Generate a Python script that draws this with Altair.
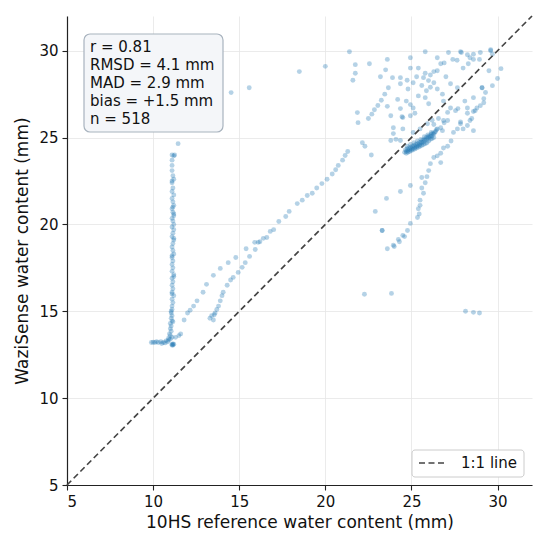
import altair as alt
import pandas as pd

# ---- data ----
column_x = [11.45, 11.25, 11.2, 11.1, 11.1, 11.1, 11.15, 11.2, 11.1, 11.15, 11.1, 11.2, 11.1, 11.15,
            11.2, 11.1, 11.15, 11.2, 11.1, 11.15, 11.2, 11.1, 11.2, 11.15, 11.1, 11.2, 11.15, 11.1,
            11.15, 11.2, 11.1, 11.15, 11.1, 11.15, 11.1, 11.2, 11.1, 11.15, 11.1, 11.15, 11.1, 11.2,
            11.1, 11.15, 11.1, 11.1, 11.05, 11.1, 11.05, 11.1, 11.0, 11.05, 11.0, 11.05, 10.95, 11.0,
            11.1, 10.9, 11.1, 11.15, 11.2, 11.1, 11.2, 11.1, 11.05, 11.15, 11.1, 11.2]
column_y = [24.65, 24.0, 23.95, 23.7, 23.4, 23.1, 22.8, 22.6, 22.4, 22.1, 21.9, 21.7, 21.5, 21.3,
            21.1, 20.9, 20.7, 20.5, 20.35, 20.2, 20.0, 19.85, 19.7, 19.5, 19.3, 19.1, 18.9, 18.7,
            18.5, 18.3, 18.1, 17.9, 17.7, 17.5, 17.3, 17.1, 16.9, 16.7, 16.5, 16.3, 16.1, 15.9,
            15.7, 15.5, 15.3, 15.1, 14.9, 14.75, 14.6, 14.45, 14.3, 14.15, 14.0, 13.85, 13.7, 13.6,
            13.5, 13.45, 22.5, 21.0, 19.2, 18.2, 17.0, 16.0, 15.0, 14.4, 24.0, 20.6]

base_x = [9.9, 10.1, 10.3, 10.45, 10.6, 10.75, 10.85, 10.9, 11.0, 10.5, 10.2, 11.1, 11.15, 11.2,
          11.1, 11.15, 11.3, 11.5, 11.6, 10.0, 10.7]
base_y = [13.2, 13.2, 13.2, 13.25, 13.2, 13.3, 13.25, 13.35, 13.4, 13.15, 13.25, 13.1, 13.05, 13.1,
          13.05, 13.12, 13.5, 13.6, 13.7, 13.22, 13.18]

upper_x = [11.8, 12.0, 12.15, 12.35, 12.55, 12.9, 13.1, 13.5, 13.9, 14.36, 14.8, 15.4, 15.9, 16.2,
           16.6, 16.8, 17.0, 17.3, 17.7, 17.9, 18.37, 18.66, 18.95, 19.24, 19.5, 19.8, 20.1, 20.4,
           20.6, 20.75, 21.0, 21.15, 21.3]
upper_y = [14.5, 14.9, 15.06, 15.3, 15.6, 16.1, 16.55, 17.07, 17.47, 17.8, 18.1, 18.6, 18.97, 19.0,
           19.25, 19.6, 19.7, 20.17, 20.46, 20.75, 21.2, 21.4, 21.67, 21.8, 22.1, 22.35, 22.6, 22.9,
           23.15, 23.4, 23.7, 23.97, 24.2]

lower_x = [13.3, 13.4, 13.6, 13.7, 13.8, 13.9, 14.0, 14.07, 14.3, 14.5, 14.65, 14.94, 15.17, 15.35,
           15.6, 15.93, 16.1, 16.4, 13.5, 13.55]
lower_y = [14.6, 14.75, 14.9, 15.1, 15.3, 15.6, 15.9, 16.1, 16.5, 16.8, 16.95, 17.24, 17.53, 17.8,
           18.16, 18.56, 18.97, 19.2, 14.5, 14.8]

band_x = [24.6, 24.65, 24.7, 24.75, 24.8, 24.85, 24.9, 24.95, 25.0, 25.05, 25.1, 25.15, 25.2, 25.25,
          25.3, 25.35, 25.4, 25.45, 25.5, 25.55, 25.6, 25.65, 25.7, 25.75, 25.8, 25.85, 25.9, 25.95,
          26.0, 26.05, 26.1, 26.15, 26.2, 26.25, 26.3, 26.35, 26.4, 24.7, 24.8, 24.9, 25.0, 25.1,
          25.2, 25.3, 25.4, 25.5, 25.6, 25.7, 25.8, 25.9, 26.0, 26.1, 26.2, 26.3, 24.75, 24.95,
          25.15, 25.35, 25.55, 25.75, 25.95, 26.15, 26.45, 26.5]
band_y = [24.15, 24.3, 24.2, 24.35, 24.25, 24.4, 24.3, 24.45, 24.35, 24.5, 24.4, 24.55, 24.45, 24.6,
          24.5, 24.65, 24.55, 24.7, 24.6, 24.75, 24.7, 24.85, 24.75, 24.9, 24.85, 25.0, 24.9, 25.05,
          25.0, 25.1, 25.05, 25.2, 25.1, 25.25, 25.2, 25.3, 25.35, 24.1, 24.15, 24.2, 24.25, 24.3,
          24.35, 24.4, 24.45, 24.5, 24.55, 24.6, 24.65, 24.7, 24.8, 24.9, 24.95, 25.0, 24.5, 24.6,
          24.7, 24.8, 24.9, 25.05, 25.15, 25.3, 25.45, 25.5]

drop_x = [26.7, 26.5, 26.3, 26.1, 26.0, 25.9, 25.8, 25.7, 25.5, 25.4, 25.35, 24.94, 24.77, 24.5,
          24.24, 23.95, 23.6, 24.6, 24.3, 24.0, 23.3, 25.6, 25.5, 25.45]
drop_y = [24.1, 23.95, 23.85, 23.5, 23.1, 22.75, 22.4, 21.8, 21.4, 20.9, 20.4, 20.06, 19.65, 19.37,
          19.14, 18.8, 18.6, 19.3, 19.0, 18.73, 19.65, 22.1, 21.1, 20.6]

cluster_x = [21.4, 20.0, 18.49, 21.74, 21.74, 21.6, 22.56, 23.6, 23.2, 23.9, 24.36, 24.94, 25.8, 26.5,
             27.15, 27.85, 28.25, 28.6, 29.0, 29.6, 29.7, 30.2, 30.0, 29.5, 29.1, 29.7, 29.3, 29.2,
             28.6, 28.8, 28.1, 28.25, 28.6, 28.4, 27.85, 28.0, 27.56, 27.1, 27.44, 27.3, 26.86, 26.7,
             26.3, 22.9, 23.3, 23.55, 24.36, 24.94, 25.6, 26.7, 22.15, 22.3, 22.67,
             22.5, 22.7, 22.85, 23.05, 23.25, 23.45, 23.66, 21.86, 21.9, 23.6, 23.8, 24.36, 24.5,
             24.94, 25.1, 24.7, 24.8, 25.4, 25.8, 25.87, 25.99, 26.3, 26.5, 26.8, 26.86, 25.1, 25.4,
             25.8, 26.3, 26.7, 26.9, 27.4, 27.65, 28.0, 28.3, 28.6, 24.94, 24.36, 24.75, 25.3, 25.7,
             26.1, 26.5, 27.0, 27.27, 27.67, 27.27, 27.7, 28.25, 26.86, 26.57, 26.2, 25.93, 25.5,
             25.1, 24.5, 23.95, 23.8, 24.1, 24.36, 24.94, 23.95, 24.45, 27.1, 27.85, 28.25, 28.6,
             28.5, 28.7, 29.0, 29.2, 27.67, 26.8, 26.9, 27.1, 14.53, 15.58, 22.27, 23.84, 28.14,
             28.6, 28.95, 29.1, 29.6, 28.95, 28.4, 27.9, 26.1, 26.0, 25.6, 25.2, 24.2, 23.5]
cluster_y = [29.94, 29.1, 28.8, 29.2, 28.7, 28.3, 29.25, 29.5, 28.5, 28.45, 28.45, 29.6, 29.94, 29.6,
             29.9, 29.94, 29.77, 29.8, 29.9, 30.06, 29.8, 28.97, 28.4, 28.85, 27.87, 27.99, 27.6, 27.24,
             27.3, 26.7, 27.1, 26.4, 26.5, 25.98, 25.8, 25.5, 26.55, 26.45, 25.3, 24.8, 24.4, 25.57,
             25.75, 20.75, 19.65, 21.5, 21.9, 22.24, 22.7, 23.56, 24.7, 24.5, 24.0,
             26.1, 26.35, 26.6, 26.85, 27.15, 27.5, 27.87, 26.44, 25.86, 26.8, 26.26, 26.67, 26.15,
             26.26, 26.7, 27.1, 27.8, 27.4, 27.3, 27.7, 28.28, 28.16, 27.8, 27.5, 27.1, 28.16, 29.0,
             28.7, 28.8, 29.25, 29.3, 29.5, 29.45, 29.0, 29.25, 29.5, 29.0, 28.1, 28.3, 28.5, 28.45,
             28.6, 28.85, 28.5, 28.1, 27.87, 26.7, 26.67, 26.7, 25.98, 26.1, 26.0, 25.8, 25.5,
             25.29, 25.5, 25.23, 24.83, 24.9, 24.83, 26.9, 25.57, 26.2, 25.98, 25.9, 25.7, 25.4,
             26.1, 26.55, 26.84, 27.0, 25.5, 25.4, 25.85, 24.5, 27.59, 27.87, 15.98, 16.03, 15.0,
             14.94, 14.9, 27.87, 30.0, 29.5, 29.6, 29.9, 27.9, 26.95, 28.0, 26.4, 27.2, 28.9]

xs = column_x + base_x + upper_x + lower_x + band_x + drop_x + cluster_x
ys = column_y + base_y + upper_y + lower_y + band_y + drop_y + cluster_y
points = pd.DataFrame({"x": xs, "y": ys})

line_vals = [5, 32]
diag = pd.DataFrame({"x": line_vals, "y": line_vals})

stats_text = "r = 0.81\nRMSD = 4.1 mm\nMAD = 2.9 mm\nbias = +1.5 mm\nn = 518"

W, H = 465, 469
FONT = "DejaVu Sans"

xscale = alt.Scale(domain=[5, 32], nice=False, zero=False)
yscale = alt.Scale(domain=[5, 32], nice=False, zero=False)
ticks = [5, 10, 15, 20, 25, 30]

scatter = alt.Chart(points).mark_circle(size=24, opacity=0.33, color="#1f77b4").encode(
    x=alt.X("x:Q", scale=xscale, title="10HS reference water content (mm)",
            axis=alt.Axis(values=ticks, format="d")),
    y=alt.Y("y:Q", scale=yscale, title="WaziSense water content (mm)",
            axis=alt.Axis(values=ticks, format="d")),
)

line = alt.Chart(diag).mark_line(color="#444444", strokeDash=[6, 3.5], strokeWidth=1.7).encode(
    x=alt.X("x:Q", scale=xscale), y=alt.Y("y:Q", scale=yscale)
)

box = alt.Chart(pd.DataFrame({"a": [0]})).mark_rect(
    fill="#f4f6f9", stroke="#a8b3be", strokeWidth=1.2, cornerRadius=6, opacity=1
).encode(x=alt.value(17), x2=alt.value(156), y=alt.value(18), y2=alt.value(116))

box_text = alt.Chart(pd.DataFrame({"a": [0]})).mark_text(
    text=stats_text, lineBreak="\n", lineHeight=18, align="left", baseline="top",
    font=FONT, fontSize=15, color="#111111"
).encode(x=alt.value(23), y=alt.value(24))

leg_box = alt.Chart(pd.DataFrame({"a": [0]})).mark_rect(
    fill="white", stroke="#cccccc", strokeWidth=1, cornerRadius=3
).encode(x=alt.value(345), x2=alt.value(457), y=alt.value(434), y2=alt.value(461))

leg_line = alt.Chart(pd.DataFrame({"a": [0]})).mark_rule(
    color="#444444", strokeDash=[6, 3.5], strokeWidth=1.7
).encode(x=alt.value(352), x2=alt.value(380), y=alt.value(447))

leg_text = alt.Chart(pd.DataFrame({"a": [0]})).mark_text(
    text="1:1 line", align="left", baseline="middle", font=FONT, fontSize=15, color="#111111"
).encode(x=alt.value(394), y=alt.value(447))

chart = alt.layer(scatter, line, box, box_text, leg_box, leg_line, leg_text).properties(
    width=W, height=H,
    autosize=alt.AutoSizeParams(type="none"),
    padding={"left": 59, "top": 8, "right": 10, "bottom": 50},
).configure_view(stroke=None).configure_axis(
    labelFont=FONT, titleFont=FONT, labelFontSize=15, titleFontSize=17,
    labelColor="#111111", titleColor="#111111", titleFontWeight="normal",
    domainColor="#222222", domainWidth=1.2, tickColor="#222222", tickSize=5, tickWidth=1.1,
    gridColor="#e6e6e6", gridWidth=0.8, labelPadding=4,
).configure_axisX(titlePadding=5).configure_axisY(titlePadding=7)

chart.save("out.html", embed_options={"renderer": "svg", "actions": False})
